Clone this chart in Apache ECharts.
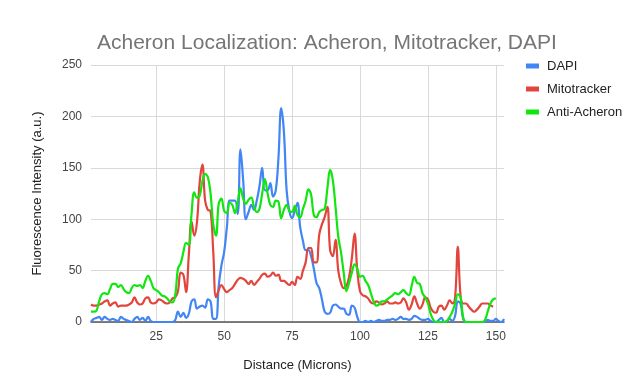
<!DOCTYPE html>
<html>
<head>
<meta charset="utf-8">
<script src="https://cdn.jsdelivr.net/npm/echarts@6/dist/echarts.min.js"></script>
<style>html,body{margin:0;padding:0;background:#fff}#c{width:643px;height:381px}</style>
</head>
<body>
<div id="c"></div>
<script>
// Distance (microns), 1..153
const distance = [];
for (let i = 1; i <= 153; i++) distance.push(i);

const seriesNames = ['DAPI', 'Mitotracker', 'Anti-Acheron'];
const xTicks = [25, 50, 75, 100, 125, 150];

const dapi = [
  0, 3, 4, 5, 2, 5, 3, 2, 3, 2,
  1, 5, 3, 2, 1, 0, 3, 5, 2, 4,
  1, 5, 1, 0, 0, 0, 0, 0, 0, 0,
  0, 2, 10, 5, 9, 4, 8, 20, 22, 13,
  15, 16, 14, 22, 20, 3, 3, 35, 55, 68,
  92, 118, 118, 118, 105, 168, 138, 100, 107, 114,
  109, 118, 132, 150, 128, 128, 135, 122, 128, 160,
  208, 185, 128, 108, 101, 108, 116, 92, 79, 70,
  70, 64, 52, 38, 33, 22, 10, 8, 9, 16,
  17, 15, 13, 13, 8, 7, 16, 14, 5, 0,
  0, 1, 0, 1, 0, 1, 2, 1, 1, 2,
  2, 3, 2, 3, 5, 3, 3, 2, 3, 6,
  5, 3, 2, 2, 3, 1, 0, 0, 2, 4,
  0, 1, 3, 1, 6, 20, 18, 3, 0, 0,
  0, 0, 0, 0, 0, 0, 2, 1, 1, 3,
  1, 0, 3
];

const mitotracker = [
  17, 16, 16, 17, 18, 20, 21, 16, 18, 19,
  15, 16, 16, 16, 17, 19, 24, 19, 17, 18,
  23, 24, 19, 18, 19, 22, 21, 19, 18, 19,
  23, 24, 30, 48, 46, 29, 65, 98, 84, 97,
  136, 153, 118, 109, 108, 68, 24, 31, 36, 32,
  29, 31, 33, 37, 41, 43, 42, 40, 37, 40,
  36, 39, 42, 46, 47, 44, 45, 48, 45, 46,
  40, 40, 38, 36, 39, 36, 44, 42, 50, 58,
  72, 72, 58, 58, 85, 95, 102, 112, 70, 64,
  80, 50, 38, 33, 35, 44, 62, 86, 50, 30,
  26, 25, 23, 19, 18, 20, 19, 17, 18, 20,
  18, 18, 19, 18, 19, 23, 19, 12, 17, 25,
  18, 13, 17, 24, 22, 14, 10, 9, 15, 16,
  12, 16, 21, 18, 24, 73, 26, 18, 18, 15,
  12, 10, 12, 15, 18, 18, 18, 16, 15, null,
  null, null, null
];

const antiAcheron = [
  10, 10, 11, 20, 27, 28, 27, 32, 37, 37,
  34, 36, 32, 29, 28, 33, 36, 35, 36, 33,
  40, 45, 40, 33, 31, 29, 26, 25, 23, 20,
  19, 26, 52, 57, 68, 77, 75, 105, 126, 121,
  123, 137, 144, 141, 125, 95, 84, 115, 120, 108,
  106, 116, 114, 106, 117, 130, 120, 115, 119, 121,
  112, 107, 110, 125, 139, 125, 114, 112, 118, 117,
  101, 109, 114, 108, 107, 113, 104, 102, 110, 118,
  129, 124, 104, 102, 107, 109, 110, 130, 148, 138,
  112, 83, 68, 48, 30, 38, 48, 56, 52, 44,
  45, 40, 36, 28, 20, 16, 17, 20, 20, 22,
  24, 26, 28, 27, 29, 31, 28, 26, 35, 44,
  38, 37, 28, 24, 18, 8, 2, 0, 0, 0,
  0, 1, 5, 10, 18, 27, 24, 4, 0, 0,
  0, 0, 0, 0, 0, 2, 10, 18, 22, 23,
  null, null, null
];

const colors = ['#4285F4', '#E2453C', '#11E611'];
const valuesList = [dapi, mitotracker, antiAcheron];

const chart = echarts.init(document.getElementById('c'), null, {renderer: 'canvas'});
chart.setOption({
  animation: false,
  color: colors,
  title: {
    text: 'Acheron Localization: Acheron, Mitotracker, DAPI',
    left: 97, top: 33, padding: 0,
    textStyle: {fontFamily: 'Liberation Sans, Arial, sans-serif', fontSize: 21, fontWeight: 'normal', color: '#757575'}
  },
  legend: {
    orient: 'vertical', left: 526, top: 59, padding: 0,
    itemWidth: 13, itemHeight: 5, itemGap: 9, icon: 'rect',
    textStyle: {fontFamily: 'Liberation Sans, Arial, sans-serif', fontSize: 13, color: '#222', lineHeight: 14, padding: [0, 0, 0, 3]},
    data: seriesNames
  },
  grid: {left: 91, right: 139, top: 65, bottom: 59, containLabel: false},
  xAxis: {
    type: 'value', min: 1, max: 153,
    name: 'Distance (Microns)', nameLocation: 'middle', nameGap: 37,
    nameTextStyle: {fontFamily: 'Liberation Sans, Arial, sans-serif', fontSize: 13, color: '#222'},
    axisLine: {show: true, lineStyle: {color: '#555', width: 1.5}},
    axisTick: {show: false, customValues: xTicks},
    axisLabel: {customValues: xTicks, margin: 9, fontFamily: 'Liberation Sans, Arial, sans-serif', fontSize: 12, color: '#444'},
    splitLine: {show: true, lineStyle: {color: '#d9d9d9', width: 1}}
  },
  yAxis: {
    type: 'value', min: 0, max: 250, interval: 50,
    name: 'Fluorescence Intensity (a.u.)', nameLocation: 'middle', nameGap: 47,
    nameTextStyle: {fontFamily: 'Liberation Sans, Arial, sans-serif', fontSize: 13, color: '#222'},
    axisLine: {show: false}, axisTick: {show: false},
    axisLabel: {margin: 9, fontFamily: 'Liberation Sans, Arial, sans-serif', fontSize: 12, color: '#444'},
    splitLine: {show: true, lineStyle: {color: '#d9d9d9', width: 1}}
  },
  series: seriesNames.map((n, k) => ({
    name: n, type: 'line', smooth: 0.4, showSymbol: false, connectNulls: false,
    lineStyle: {width: 2.2, color: colors[k]}, itemStyle: {color: colors[k]},
    data: distance.map((d, i) => [d, valuesList[k][i]])
  }))
});
</script>
</body>
</html>
